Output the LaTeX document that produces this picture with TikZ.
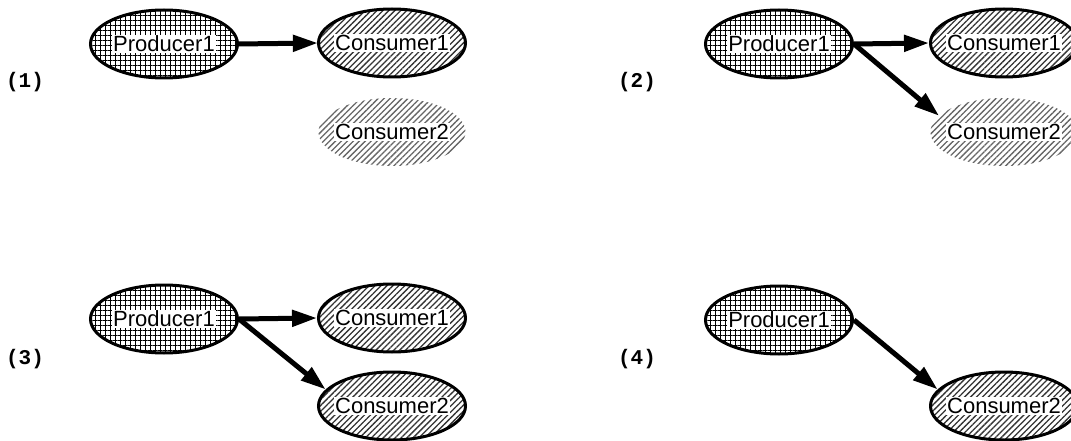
\documentclass[tikz,border=0pt]{standalone}
\usepackage{fontspec}
\setmainfont{Liberation Sans}
\newfontfamily\monob{Liberation Mono}
\usetikzlibrary{shapes.geometric,patterns.meta,arrows.meta}
\tikzset{
  base/.style={ellipse,minimum width=147pt,minimum height=68pt,inner sep=0pt},
  txt/.style={fill=white,inner sep=1pt,font=\fontsize{22}{24}\selectfont},
  prod/.style={base,draw,line width=3pt,
    pattern={Hatch[angle=0,distance=5pt,line width=1pt]},pattern color=black},
  cons/.style={base,draw,line width=3pt,
    pattern={Lines[angle=45,distance=4.2pt,line width=1.3pt]},pattern color=black!80},
  ghost/.style={base,
    pattern={Lines[angle=45,distance=4.2pt,line width=1.3pt]},pattern color=black!60},
  flow/.style={line width=5pt,-{Triangle[length=25pt,width=16pt]}},
  tag/.style={font=\monob\bfseries\fontsize{21}{23}\selectfont},
}
\begin{document}
\begin{tikzpicture}[x=1pt,y=-1pt]
\useasboundingbox (0,0) rectangle (1071,441);
\clip (0,0) rectangle (1071,441);
% panel 1
\node[tag] (t1) at (25,82) {(1)};
\node[prod] (p1) at (164,44) {};
\node[cons] (c11) at (392,43) {};
\node[ghost] (c12) at (392,132) {};
\node[txt] (p1t) at (p1) {Producer1};
\node[txt] (c11t) at (c11) {Consumer1};
\node[txt] (c12t) at (c12) {Consumer2};
\draw[flow] (p1.east) -- (c11.west);
% panel 2
\node[tag] (t2) at (637,82) {(2)};
\node[prod] (p2) at (779,44) {};
\node[cons] (c21) at (1004,43) {};
\node[ghost] (c22) at (1004,132) {};
\node[txt] (p2t) at (p2) {Producer1};
\node[txt] (c21t) at (c21) {Consumer1};
\node[txt] (c22t) at (c22) {Consumer2};
\draw[flow] (p2.east) -- (c21.west);
\draw[flow] (p2.east) -- (c22.166);
% panel 3
\node[tag] (t3) at (25,359) {(3)};
\node[prod] (p3) at (164,319) {};
\node[cons] (c31) at (392,318) {};
\node[cons] (c32) at (392,406) {};
\node[txt] (p3t) at (p3) {Producer1};
\node[txt] (c31t) at (c31) {Consumer1};
\node[txt] (c32t) at (c32) {Consumer2};
\draw[flow] (p3.east) -- (c31.west);
\draw[flow] (p3.east) -- (c32.166);
% panel 4
\node[tag] (t4) at (637,359) {(4)};
\node[prod] (p4) at (779,320) {};
\node[cons] (c42) at (1004,406) {};
\node[txt] (p4t) at (p4) {Producer1};
\node[txt] (c42t) at (c42) {Consumer2};
\draw[flow] (p4.east) -- (c42.166);
\end{tikzpicture}
\end{document}
